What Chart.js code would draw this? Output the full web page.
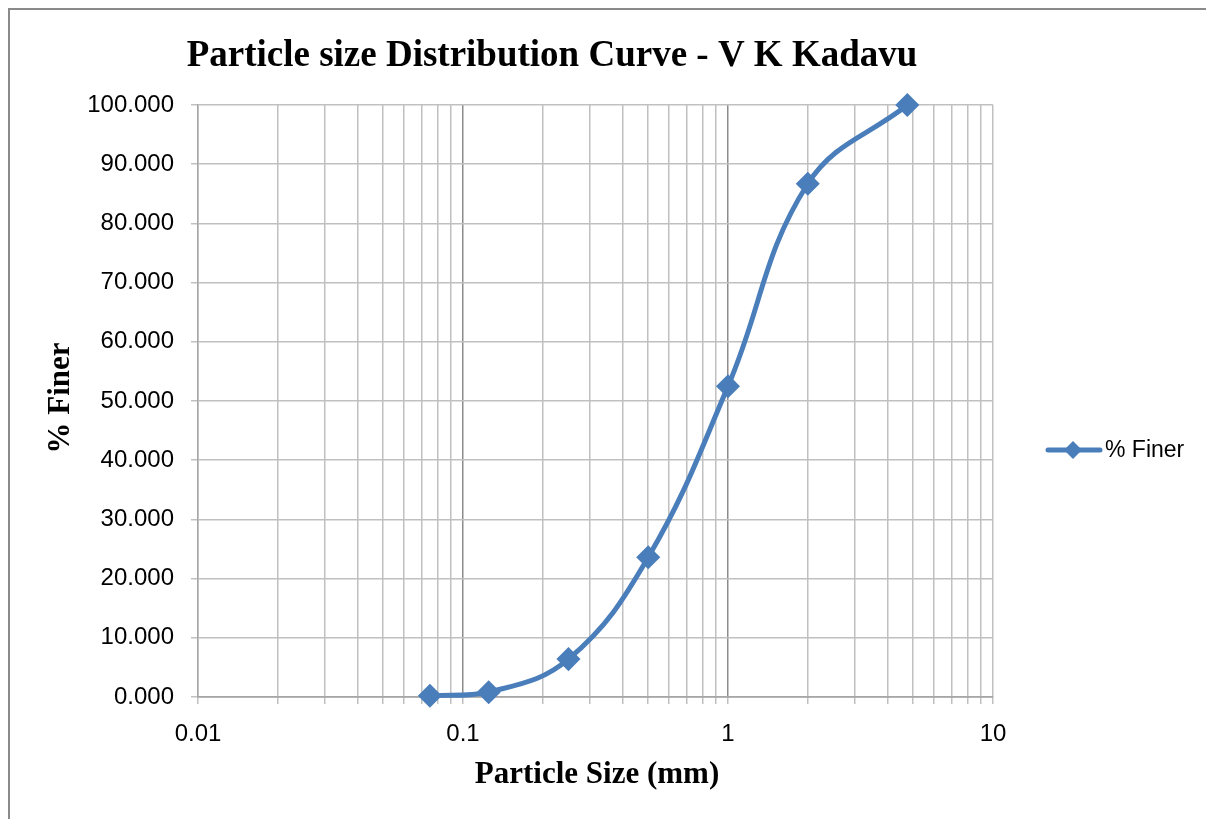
<!DOCTYPE html>
<html>
<head>
<meta charset="utf-8">
<title>Particle size Distribution Curve - V K Kadavu</title>
<script src="https://cdn.jsdelivr.net/npm/chart.js@4/dist/chart.umd.min.js"></script>
<style>
  html, body { margin: 0; padding: 0; background: #ffffff; }
  canvas { display: block; }
</style>
</head>
<body>
<canvas id="psd" width="1206" height="819"></canvas>
<script>
// Sieve sizes (mm) and cumulative percent passing
const sieveSizes = [0.075, 0.125, 0.25, 0.5, 1, 2, 4.75];
const percentFiner = [0.2, 0.8, 6.4, 23.6, 52.5, 86.7, 100.0];

// Log-axis gridline positions (1..9 per decade) and labelled decades
const xGridValues = [
  0.01, 0.02, 0.03, 0.04, 0.05, 0.06, 0.07, 0.08, 0.09,
  0.1, 0.2, 0.3, 0.4, 0.5, 0.6, 0.7, 0.8, 0.9,
  1, 2, 3, 4, 5, 6, 7, 8, 9, 10
];
const xLabelValues = [0.01, 0.1, 1, 10];
const yTickValues = [0, 10, 20, 30, 40, 50, 60, 70, 80, 90, 100];

const titleText = 'Particle size Distribution Curve - V K Kadavu';
const xTitleText = 'Particle Size (mm)';
const yTitleText = '% Finer';
const seriesName = '% Finer';

const SERIES_COLOR = '#4a7ebb';
const GRID_COLOR = '#c0c0c0';
const MAJOR_GRID_COLOR = '#8c8c8c';
const SERIF = '"Liberation Serif", "Times New Roman", serif';
const SANS = '"Liberation Sans", Arial, sans-serif';

const isDecade = v => xLabelValues.some(d => Math.abs(v - d) < 1e-9);

// Frame, titles and legend painted around the plot
const decorations = {
  id: 'decorations',
  beforeDraw(chart) {
    const ctx = chart.ctx;
    ctx.save();
    ctx.fillStyle = '#ffffff';
    ctx.fillRect(0, 0, chart.width, chart.height);
    ctx.strokeStyle = '#8a8a8a';
    ctx.lineWidth = 2;
    ctx.beginPath();
    ctx.moveTo(9, chart.height + 5);
    ctx.lineTo(9, 9);
    ctx.lineTo(chart.width + 5, 9);
    ctx.stroke();
    ctx.restore();
  },
  afterDraw(chart) {
    const ctx = chart.ctx;
    ctx.save();
    ctx.fillStyle = '#000000';
    ctx.textBaseline = 'middle';
    ctx.textAlign = 'center';

    ctx.font = 'bold 37px ' + SERIF;
    ctx.fillText(titleText, 552, 56);

    ctx.font = 'bold 31px ' + SERIF;
    ctx.fillText(xTitleText, 597, 775);

    ctx.translate(61, 398);
    ctx.rotate(-Math.PI / 2);
    ctx.fillText(yTitleText, 0, 0);
    ctx.restore();

    // Legend entry: line with diamond marker
    const ds = chart.data.datasets[0];
    ctx.save();
    ctx.strokeStyle = ds.borderColor;
    ctx.lineWidth = ds.borderWidth;
    ctx.lineCap = 'round';
    ctx.beginPath();
    ctx.moveTo(1048, 450);
    ctx.lineTo(1100, 450);
    ctx.stroke();
    ctx.fillStyle = ds.pointBackgroundColor;
    ctx.beginPath();
    ctx.moveTo(1073, 441);
    ctx.lineTo(1082, 450);
    ctx.lineTo(1073, 459);
    ctx.lineTo(1064, 450);
    ctx.closePath();
    ctx.fill();
    ctx.fillStyle = '#000000';
    ctx.textAlign = 'left';
    ctx.textBaseline = 'middle';
    ctx.font = '23px ' + SANS;
    ctx.fillText(seriesName, 1105, 451);
    ctx.restore();
  }
};

new Chart(document.getElementById('psd'), {
  type: 'line',
  data: {
    datasets: [{
      label: seriesName,
      data: sieveSizes.map((x, i) => ({ x: x, y: percentFiner[i] })),
      borderColor: SERIES_COLOR,
      backgroundColor: SERIES_COLOR,
      pointBackgroundColor: SERIES_COLOR,
      pointBorderColor: SERIES_COLOR,
      borderWidth: 5,
      pointStyle: 'rectRot',
      pointRadius: 8.5,
      pointHoverRadius: 8.5,
      tension: 0.4,
      fill: false,
      clip: false
    }]
  },
  options: {
    responsive: false,
    animation: false,
    devicePixelRatio: 1,
    layout: { padding: { top: 105, right: 213, bottom: 0, left: 0 } },
    plugins: {
      legend: { display: false },
      title: { display: false },
      tooltip: { enabled: false }
    },
    scales: {
      x: {
        type: 'logarithmic',
        min: 0.01,
        max: 10,
        afterBuildTicks(scale) {
          scale.ticks = xGridValues.map(v => ({ value: v }));
        },
        afterFit(scale) { scale.height = 122; },
        ticks: {
          autoSkip: false,
          maxRotation: 0,
          padding: 16,
          color: '#000000',
          font: { family: SANS, size: 24 },
          callback: v => (isDecade(v) ? String(v) : '')
        },
        grid: {
          color: ctx => (ctx.tick && isDecade(ctx.tick.value) && ctx.tick.value !== 0.01 && ctx.tick.value !== 10 ? MAJOR_GRID_COLOR : GRID_COLOR),
          lineWidth: 1.5,
          tickLength: 7,
          tickColor: GRID_COLOR
        },
        border: { color: '#a6a6a6', width: 1.5 }
      },
      y: {
        type: 'linear',
        min: 0,
        max: 100,
        afterBuildTicks(scale) {
          scale.ticks = yTickValues.map(v => ({ value: v }));
        },
        afterFit(scale) { scale.width = 198; },
        ticks: {
          padding: 17,
          color: '#000000',
          font: { family: SANS, size: 24 },
          callback: v => Number(v).toFixed(3)
        },
        grid: {
          color: ctx => (ctx.tick && ctx.tick.value === 0 ? '#8c8c8c' : GRID_COLOR),
          lineWidth: 1.5,
          tickLength: 7,
          tickColor: GRID_COLOR
        },
        border: { color: '#a6a6a6', width: 1.5 }
      }
    }
  },
  plugins: [decorations]
});
</script>
</body>
</html>
